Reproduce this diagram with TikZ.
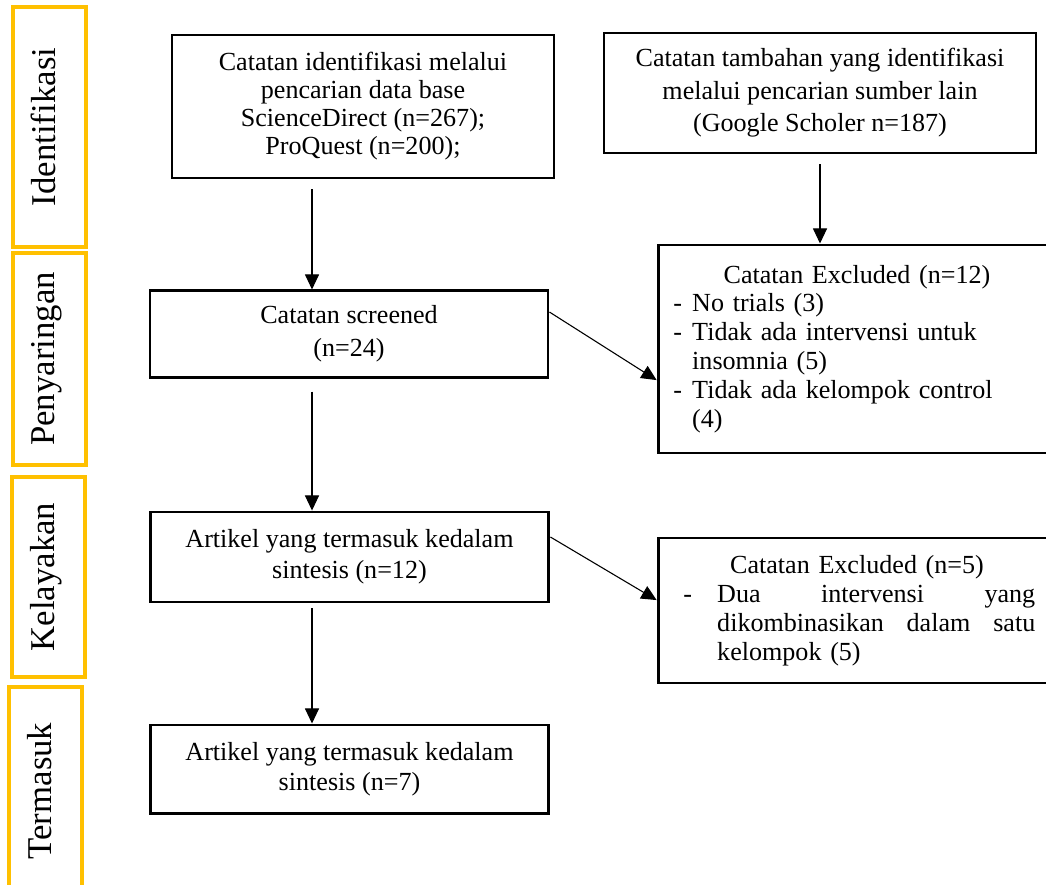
\documentclass[tikz,border=0pt]{standalone}
\usepackage{fontspec}
\setmainfont{Liberation Serif}
\usetikzlibrary{arrows.meta}
\definecolor{stagegold}{RGB}{255,192,0}
\tikzset{
  flowarrow/.style={-{Triangle[length=7pt, width=6.5pt]}, line width=0.5pt},
  recbox/.style={draw, line width=1.35pt, align=center, inner sep=0pt, font=\fontsize{12}{14}\selectfont},
  exclbox/.style={draw, line width=1.35pt, align=left, inner xsep=7pt, inner ysep=0pt, text width=169pt, font=\fontsize{12}{13.3}\selectfont},
  stagebox/.style={draw=stagegold, line width=1.5pt, rotate=90, minimum height=33.6pt, text depth=6pt, font=\fontsize{16}{18}\selectfont}
}

\begin{document}
\begin{tikzpicture}[x=0.46pt, y=-0.46pt]
  \useasboundingbox (0,0) rectangle (1046,884);
  % stages
  \node[stagebox, minimum width=110.4pt] (sIdent) at (49.5,127) {Identifikasi};
  \node[stagebox, minimum width=97.5pt] (sScreen) at (49.5,359) {Penyaringan};
  \node[stagebox, minimum width=92pt] (sElig) at (48.5,577) {Kelayakan};
  \node[stagebox, minimum width=95.7pt] (sIncl) at (45.5,791) {Termasuk};
  % records
  \node[recbox, minimum width=175.7pt, minimum height=65.8pt, font=\fontsize{12}{12.9}\selectfont] (b1) at (363,106.5)
    {Catatan identifikasi melalui\\ pencarian data base\\ ScienceDirect (n=267);\\ ProQuest (n=200);};
  \node[recbox, minimum width=198.7pt, minimum height=55.2pt, font=\fontsize{12}{15}\selectfont] (b2) at (820,93)
    {Catatan tambahan yang identifikasi\\ melalui pencarian sumber lain\\ (Google Scholer n=187)};
  \node[recbox, minimum width=183.1pt, minimum height=39.6pt, font=\fontsize{12}{15}\selectfont] (b3) at (349,334)
    {Catatan screened\\ (n=24)};
  \node[recbox, minimum width=183.5pt, minimum height=41.4pt, font=\fontsize{12}{14.3}\selectfont] (b5) at (349.5,557)
    {Artikel yang termasuk kedalam\\ sintesis (n=12)};
  \node[recbox, minimum width=183.5pt, minimum height=40.5pt, font=\fontsize{12}{13.8}\selectfont] (b7) at (349.5,769)
    {Artikel yang termasuk kedalam\\ sintesis (n=7)};
  % exclusions
  \node[exclbox, minimum height=95.7pt] (ex1) at (857,349) {%
    \makebox[169pt][c]{Catatan Excluded (n=12)}\\
    \makebox[8.7pt][l]{-}No trials (3)\\
    \makebox[8.7pt][l]{-}Tidak ada intervensi untuk\\
    \hspace*{8.7pt}insomnia (5)\\
    \makebox[8.7pt][l]{-}Tidak ada kelompok control\\
    \hspace*{8.7pt}(4)};
  \node[exclbox, minimum height=66.7pt] (ex2) at (857,610.5) {%
    \makebox[169pt][c]{Catatan Excluded (n=5)}\\
    \hspace*{4.6pt}\makebox[15.6pt][l]{-}\hbox to 146.3pt{Dua\hfill intervensi\hfill yang}\\
    \hspace*{20.2pt}\hbox to 146.3pt{dikombinasikan\hfill dalam\hfill satu}\\
    \hspace*{20.2pt}kelompok (5)};
  % flow
  \coordinate (col) at (312,0);
  \draw[flowarrow, shorten <=4.6pt] (b1.south -| col) -- (b3.north -| col);
  \draw[flowarrow, shorten <=4.6pt] (b2.south) -- (b2.south |- ex1.north);
  \draw[flowarrow] ([yshift=10.1pt]b3.east) -- ([yshift=-14.3pt]ex1.west);
  \draw[flowarrow, shorten <=6pt] (b3.south -| col) -- (b5.north -| col);
  \draw[flowarrow] ([yshift=9.2pt]b5.east) -- ([yshift=4.8pt]ex2.west);
  \draw[flowarrow, shorten <=2.3pt] (b5.south -| col) -- (b7.north -| col);
\end{tikzpicture}
\end{document}
